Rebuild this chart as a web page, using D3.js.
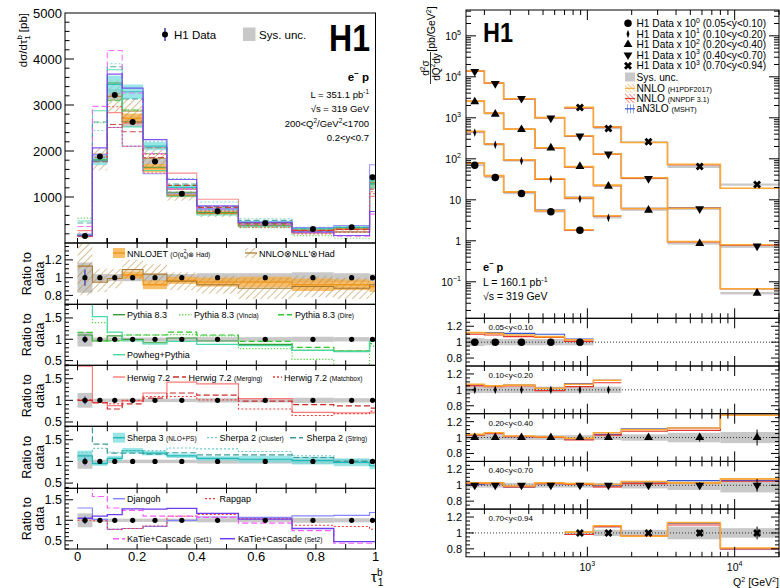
<!DOCTYPE html>
<html><head><meta charset="utf-8">
<script src="https://cdn.jsdelivr.net/npm/d3@7"></script>
<style>
body{margin:0;background:#fff}
svg{font-family:"Liberation Sans",Arial,Helvetica,sans-serif;display:block}
</style>
</head><body>
<svg id="chart" width="780" height="588"></svg>
<script>
// ================= Left: 1-jettiness tau_1^b =================
const tauEdges   = [0, 0.05, 0.1, 0.15, 0.22, 0.3, 0.4, 0.54, 0.72, 0.86, 0.98, 1.0];
const tauCenters = [0.025, 0.075, 0.125, 0.185, 0.26, 0.35, 0.47, 0.63, 0.79, 0.92, 0.99];
const tauXsec    = [150, 1880, 3220, 2630, 1770, 1070, 690, 428, 304, 341, 1428];
const tauStat    = [0.09, 0.02, 0.015, 0.015, 0.015, 0.015, 0.02, 0.02, 0.03, 0.03, 0.03];
const tauSys     = [0.17, 0.04, 0.04, 0.04, 0.04, 0.04, 0.05, 0.05, 0.06, 0.05, 0.04];
const tauXTicks  = [0, 0.2, 0.4, 0.6, 0.8, 1];
const tauYTicks  = [1000, 2000, 3000, 4000, 5000];

// predictions, as ratio to data
const ratNnlojet   = [null, null, null, 1.03, 0.92, 0.97, 0.95, 0.95, 0.92, 0.92, 0.90];
const uncNnlojet   = [null, null, null, 0.04, 0.05, 0.04, 0.05, 0.06, 0.07, 0.06, 0.06];
const ratNnloNll   = [1.13, 0.95, 0.99, 1.09, 1.04, 0.96, 0.92, 0.88, 0.90, 0.88, 0.92];
const loNnloNll    = [0.80, 0.84, 0.88, 0.98, 0.93, 0.86, 0.82, 0.76, 0.78, 0.76, 0.80];
const hiNnloNll    = [1.60, 1.10, 1.10, 1.20, 1.15, 1.06, 1.02, 1.00, 1.02, 1.00, 1.04];
const ratPythia    = [1.10, 0.96, 1.08, 1.00, 0.93, 1.03, 0.96, 0.88, 0.74, 0.72, 0.95];
const ratVincia    = [3.60, 1.39, 0.97, 1.10, 1.10, 1.11, 1.08, 0.78, 0.53, 0.30, 0.84];
const ratDire      = [1.16, 0.96, 0.96, 1.10, 1.10, 1.17, 1.10, 0.95, 0.81, 0.72, 0.90];
const ratPowheg    = [3.20, 1.53, 1.17, 0.96, 0.89, 0.95, 0.88, 0.85, 0.74, 0.71, 0.95];
const ratHerwig    = [1.79, 0.95, 0.88, 0.99, 1.17, 1.42, 1.38, 1.04, 0.72, 0.71, 0.71];
const ratMerging   = [1.00, 0.94, 0.80, 0.92, 1.05, 1.17, 1.12, 0.98, 0.90, 0.87, 0.82];
const ratMatchbox  = [1.02, 0.95, 0.92, 1.00, 1.09, 1.09, 1.01, 0.80, 0.65, 0.69, 0.75];
const ratSherpa3   = [1.13, 0.95, 1.07, 1.25, 1.19, 1.13, 1.07, 1.05, 1.02, 0.98, 0.90];
const uncSherpa3   = [0.12, 0.05, 0.06, 0.06, 0.05, 0.05, 0.05, 0.08, 0.09, 0.09, 0.08];
const ratCluster   = [1.20, 1.30, 1.21, 1.25, 1.25, 1.31, 1.29, 1.23, 1.13, 1.03, 1.03];
const ratString    = [2.90, 1.40, 1.19, 1.19, 1.17, 1.20, 1.15, 1.15, 1.09, 1.00, 1.00];
const ratDjangoh   = [1.30, 1.02, 0.78, 0.80, 0.85, 1.00, 1.08, 1.07, 1.11, 1.12, 1.19];
const ratRapgap    = [1.00, 0.99, 0.78, 0.80, 0.86, 1.10, 1.14, 1.04, 0.88, 0.85, 0.78];
const ratKatie1    = [2.40, 1.58, 1.30, 1.24, 1.10, 1.10, 1.07, 0.93, 0.75, 0.44, 0.44];
const ratKatie2    = [1.05, 1.10, 1.14, 1.28, 1.27, 1.29, 1.17, 1.03, 0.80, 0.48, 0.48];

// ================= Right: double-differential in Q2 and y =================
const q2Edges   = [150, 200, 270, 440, 700, 1100, 1700, 3500, 8000, 20000];
const q2Centers = [172, 237, 357, 565, 890, 1390, 2600, 5790, 14200];
const yBinNames = ["0.05<y<0.10", "0.10<y<0.20", "0.20<y<0.40", "0.40<y<0.70", "0.70<y<0.94"];
const yBinScale = [1, 10, 100, 1000, 1000];
const yBinScaleExp = ["0", "1", "2", "3", "3"];
const xsecY1 = [70, 35, 14.3, 5.1, 1.8, null, null, null, null];
const xsecY2 = [43.8, 21.9, 8.9, 3.2, 1.06, 0.364, null, null, null];
const xsecY3 = [24.6, 12.3, 5.19, 1.85, 0.65, 0.215, 0.056, 0.0086, 0.00053];
const xsecY4 = [13.5, 6.87, 2.96, 0.982, 0.357, 0.130, 0.033, 0.00603, 0.00074];
const xsecY5 = [null, null, null, null, 1.78, 0.55, 0.26, 0.065, 0.0236];
const statY1 = [0.01, 0.01, 0.01, 0.015, 0.02, null, null, null, null];
const statY2 = [0.01, 0.01, 0.01, 0.015, 0.02, 0.03, null, null, null];
const statY3 = [0.01, 0.01, 0.01, 0.01, 0.015, 0.02, 0.03, 0.05, 0.10];
const statY4 = [0.01, 0.01, 0.01, 0.01, 0.01, 0.015, 0.02, 0.04, 0.08];
const statY5 = [null, null, null, null, 0.02, 0.02, 0.02, 0.04, 0.08];
const sysY1 = [0.05, 0.04, 0.04, 0.04, 0.04, null, null, null, null];
const sysY2 = [0.04, 0.04, 0.04, 0.04, 0.04, 0.04, null, null, null];
const sysY3 = [0.03, 0.03, 0.03, 0.03, 0.03, 0.03, 0.04, 0.06, 0.07];
const sysY4 = [0.03, 0.03, 0.03, 0.03, 0.03, 0.03, 0.04, 0.06, 0.09];
const sysY5 = [null, null, null, null, 0.02, 0.04, 0.04, 0.08, 0.06];
const h1pdfY1 = [1.12, 1.11, 1.09, 1.07, 1.03, null, null, null, null];
const h1pdfY2 = [1.07, 1.05, 1.06, 1.02, 1.07, 1.12, null, null, null];
const h1pdfY3 = [1.04, 1.06, 1.02, 1.01, 0.99, 1.06, 1.10, 1.12, 1.28];
const h1pdfY4 = [1.03, 1.03, 0.99, 1.03, 1.02, 1.01, 1.045, 1.03, 1.08];
const h1pdfY5 = [null, null, null, null, 1.01, 1.09, 0.96, 1.13, 0.81];
const nnpdfY1 = [1.10, 1.09, 1.07, 1.06, 1.01, null, null, null, null];
const nnpdfY2 = [1.05, 1.04, 1.05, 0.99, 1.04, 1.09, null, null, null];
const nnpdfY3 = [1.03, 1.05, 1.01, 1.00, 0.97, 1.03, 1.08, 1.09, 1.28];
const nnpdfY4 = [1.02, 1.02, 0.98, 1.02, 1.01, 0.98, 1.02, 1.03, 1.05];
const nnpdfY5 = [null, null, null, null, 0.98, 1.08, 0.96, 1.10, 0.80];
const mshtY1 = [1.12, 1.12, 1.11, 1.10, 1.04, null, null, null, null];
const mshtY2 = [1.06, 1.05, 1.06, 1.02, 1.08, 1.12, null, null, null];
const mshtY3 = [1.03, 1.05, 1.01, 1.00, 0.98, 1.04, 1.11, 1.12, 1.28];
const mshtY4 = [1.01, 1.02, 0.98, 1.02, 1.01, 1.00, 1.03, 1.06, 1.06];
const mshtY5 = [null, null, null, null, 0.98, 1.08, 0.96, 1.12, 0.80];

// ================= helpers =================
const svg = d3.select("#chart");
const defs = svg.append("defs");
const GREY = "#c8c8c8";

function clipRect(id, x0, y0, x1, y1) {
  defs.append("clipPath").attr("id", id).append("rect")
    .attr("x", x0).attr("y", y0).attr("width", x1 - x0).attr("height", y1 - y0);
  return `url(#${id})`;
}
function hatch(id, color, angle, gap, w) {
  const p = defs.append("pattern").attr("id", id).attr("patternUnits", "userSpaceOnUse")
    .attr("width", gap).attr("height", gap).attr("patternTransform", `rotate(${angle})`);
  p.append("line").attr("x1", 0).attr("y1", 0).attr("x2", 0).attr("y2", gap)
    .attr("stroke", color).attr("stroke-width", w);
}
hatch("hBrown", "#b8893a", 45, 5, 1.1);
hatch("hOrange", "#ff9f2a", -45, 3, 1);
hatch("hRed", "#e8332a", -45, 3, 1);
hatch("hBlue", "#3355d8", 0, 3, 1);

// rich text: parts are strings or {t, k:'sup'|'sub'|'small', sz, dx, b}
function rich(t, parts, fs) {
  let shift = 0;
  for (const p of parts) {
    const o = typeof p === "string" ? { t: p } : p;
    let target = 0, size = fs;
    if (o.k === "sup") { target = -0.42 * fs; size = 0.68 * fs; }
    if (o.k === "sub") { target = 0.28 * fs; size = 0.68 * fs; }
    if (o.k === "small") { size = 0.72 * fs; }
    if (o.sz) size = o.sz;
    const ts = t.append("tspan").attr("dy", (target - shift).toFixed(2)).attr("font-size", size).text(o.t);
    if (o.dx) ts.attr("dx", o.dx);
    if (o.b) ts.attr("font-weight", "bold");
    shift = target;
  }
  return t;
}
function label(g, x, y, parts, fs, anchor) {
  const t = g.append("text").attr("x", x).attr("y", y).attr("font-size", fs)
    .attr("text-anchor", anchor || "start").attr("fill", "#000");
  return rich(t, parts, fs);
}
function stepPath(x, y, edges, vals) {
  const pts = [];
  vals.forEach((v, i) => {
    if (v == null) { pts.push(null); return; }
    pts.push([edges[i], v], [edges[i + 1], v]);
  });
  return d3.line().defined(d => d != null).x(d => x(d[0])).y(d => y(d[1]))(pts);
}
function bandRects(g, x, y, edges, lo, hi, fill, opacity) {
  edges.slice(0, -1).forEach((e, i) => {
    if (lo[i] == null || hi[i] == null) return;
    g.append("rect").attr("x", x(e)).attr("width", x(edges[i + 1]) - x(e))
      .attr("y", y(hi[i])).attr("height", Math.max(0.5, y(lo[i]) - y(hi[i])))
      .attr("fill", fill).attr("fill-opacity", opacity == null ? 1 : opacity);
  });
}
function line(g, x1, y1, x2, y2, w, c) {
  g.append("line").attr("x1", x1).attr("y1", y1).attr("x2", x2).attr("y2", y2)
    .attr("stroke", c || "#000").attr("stroke-width", w || 1);
}

// ================= LEFT CHART =================
const LX0 = 65, LX1 = 375.5;
const xL = d3.scaleLinear().domain([-0.042, 1.0]).range([LX0, LX1]);
const yTop = d3.scaleLinear().domain([0, 5000]).range([243, 13]);

const leftModels = [
  { rat: ratNnlojet, color: "#f0961a", w: 1.3, dash: null, panel: 0,
    band: { lo: ratNnlojet.map((r, i) => r == null ? null : r - uncNnlojet[i]), hi: ratNnlojet.map((r, i) => r == null ? null : r + uncNnlojet[i]), fill: "#f7ae45", op: 0.8 } },
  { rat: ratNnloNll, color: "#a87a30", w: 1.1, dash: null, panel: 0,
    band: { lo: loNnloNll, hi: hiNnloNll, fill: "url(#hBrown)", op: 1 } },
  { rat: ratPythia, color: "#3a9a3a", w: 1.2, dash: null, panel: 1 },
  { rat: ratVincia, color: "#5fd84a", w: 1.2, dash: "1.3,1.8", panel: 1 },
  { rat: ratDire, color: "#2ec82e", w: 1.2, dash: "6,3", panel: 1 },
  { rat: ratPowheg, color: "#48d9a6", w: 1.2, dash: null, panel: 1 },
  { rat: ratHerwig, color: "#ff7a7a", w: 1.2, dash: null, panel: 2 },
  { rat: ratMerging, color: "#c92b2b", w: 1.2, dash: "6,3", panel: 2 },
  { rat: ratMatchbox, color: "#ee3a3a", w: 1.1, dash: "2,2", panel: 2 },
  { rat: ratSherpa3, color: "#22b7b7", w: 1.2, dash: null, panel: 3,
    band: { lo: ratSherpa3.map((r, i) => r - uncSherpa3[i]), hi: ratSherpa3.map((r, i) => r + uncSherpa3[i]), fill: "#6fdcdc", op: 0.7 } },
  { rat: ratCluster, color: "#6cc9c9", w: 1.1, dash: "2,2", panel: 3 },
  { rat: ratString, color: "#3c9a9a", w: 1.2, dash: "6,3", panel: 3 },
  { rat: ratDjangoh, color: "#8585ff", w: 1.2, dash: null, panel: 4 },
  { rat: ratRapgap, color: "#ff3535", w: 1.1, dash: "2,2", panel: 4 },
  { rat: ratKatie1, color: "#ff5cff", w: 1.2, dash: "6,3", panel: 4 },
  { rat: ratKatie2, color: "#6b3cf0", w: 1.3, dash: null, panel: 4 }
];

// ---- top pad
const gT = svg.append("g");
const cTop = clipRect("cTop", LX0, 13, LX1, 243);
const gTc = gT.append("g").attr("clip-path", cTop);
bandRects(gTc, xL, yTop, tauEdges, tauXsec.map((d, i) => d * (1 - tauSys[i])), tauXsec.map((d, i) => d * (1 + tauSys[i])), GREY, 1);
leftModels.filter(m => m.band).forEach(m => {
  bandRects(gTc, xL, yTop, tauEdges,
    m.band.lo.map((r, i) => r == null ? null : r * tauXsec[i]),
    m.band.hi.map((r, i) => r == null ? null : r * tauXsec[i]), m.band.fill, m.band.op);
});
leftModels.forEach(m => {
  gTc.append("path").attr("d", stepPath(xL, yTop, tauEdges, m.rat.map((r, i) => r == null ? null : r * tauXsec[i])))
    .attr("fill", "none").attr("stroke", m.color).attr("stroke-width", m.w * 0.9)
    .attr("stroke-dasharray", m.dash).attr("stroke-opacity", 0.85);
});
tauXsec.forEach((d, i) => {
  line(gTc, xL(tauCenters[i]), yTop(d * (1 + tauStat[i])), xL(tauCenters[i]), yTop(d * (1 - tauStat[i])), 1.2, "#2020a0");
  gTc.append("circle").attr("cx", xL(tauCenters[i])).attr("cy", yTop(d)).attr("r", 3).attr("fill", "#000");
});
gT.append("rect").attr("x", LX0).attr("y", 13).attr("width", LX1 - LX0).attr("height", 230)
  .attr("fill", "none").attr("stroke", "#000").attr("stroke-width", 1);
// y ticks
d3.range(200, 5000, 200).forEach(v => line(gT, LX0, yTop(v), LX0 + (v % 1000 === 0 ? 9 : 4.5), yTop(v), 1));
tauYTicks.forEach(v => label(gT, 62, yTop(v) + 4.5, [String(v)], 13, "end"));
// legend
line(gT, 165, 28, 165, 41, 1.3, "#2020a0");
gT.append("circle").attr("cx", 165).attr("cy", 34.5).attr("r", 3).attr("fill", "#000");
label(gT, 174, 38.5, ["H1 Data"], 11.5);
gT.append("rect").attr("x", 243).attr("y", 27.5).attr("width", 12.5).attr("height", 13.5).attr("fill", GREY);
label(gT, 259, 38.5, ["Sys. unc."], 11.5);
label(gT, 370, 51, ["H1"], 36, "end").attr("font-weight", "bold").attr("textLength", 41).attr("lengthAdjust", "spacingAndGlyphs");
label(gT, 369, 81, [{ t: "e", b: true }, { t: "−", k: "sup", b: true }, { t: " p", b: true }], 11.5, "end");
label(gT, 369, 98, ["L = 351.1 pb", { t: "-1", k: "sup" }], 9.5, "end");
label(gT, 369, 112, ["√s = 319 GeV"], 9.5, "end");
label(gT, 369, 127, ["200<Q", { t: "2", k: "sup" }, { t: "/GeV" }, { t: "2", k: "sup" }, "<1700"], 9.5, "end");
label(gT, 369, 141, ["0.2<y<0.7"], 9.5, "end");
// y title
{
  const t = gT.append("text").attr("transform", "translate(27,13) rotate(-90)")
    .attr("text-anchor", "end").attr("font-size", 11.5);
  rich(t, ["dσ/dτ", { t: "b", k: "sup" }, { t: "1", k: "sub", dx: -4.5 }, { t: " [pb]" }], 11.5);
}

// ---- ratio pads
const ratioPads = [
  { top: 243, bot: 304.3, dom: [0.70, 1.39], labels: [0.8, 1, 1.2], names: ["0.8", "1", "1.2"], minor: 0.05, major: 0.2 },
  { top: 304.3, bot: 365.3, dom: [0.39, 1.82], labels: [0.5, 1, 1.5], names: ["0.5", "1", "1.5"], minor: 0.1, major: 0.5 },
  { top: 365.3, bot: 426.3, dom: [0.40, 1.81], labels: [0.5, 1, 1.5], names: ["0.5", "1", "1.5"], minor: 0.1, major: 0.5 },
  { top: 426.3, bot: 488.3, dom: [0.38, 1.81], labels: [0.5, 1, 1.5], names: ["0.5", "1", "1.5"], minor: 0.1, major: 0.5 },
  { top: 488.3, bot: 549, dom: [0.30, 1.78], labels: [0.5, 1, 1.5], names: ["0.5", "1", "1.5"], minor: 0.1, major: 0.5 }
];
ratioPads.forEach((p, k) => {
  const g = svg.append("g");
  const y = d3.scaleLinear().domain(p.dom).range([p.bot, p.top]);
  const gc = g.append("g").attr("clip-path", clipRect("cR" + k, LX0, p.top, LX1, p.bot));
  bandRects(gc, xL, y, tauEdges, tauSys.map(s => 1 - s), tauSys.map(s => 1 + s), GREY, 1);
  const ms = leftModels.filter(m => m.panel === k);
  ms.filter(m => m.band).forEach(m => bandRects(gc, xL, y, tauEdges, m.band.lo, m.band.hi, m.band.fill, m.band.op));
  ms.forEach(m => {
    gc.append("path").attr("d", stepPath(xL, y, tauEdges, m.rat)).attr("fill", "none")
      .attr("stroke", m.color).attr("stroke-width", m.w).attr("stroke-dasharray", m.dash);
  });
  tauCenters.forEach((c, i) => {
    line(gc, xL(c), y(1 + tauStat[i]), xL(c), y(1 - tauStat[i]), 1.2, "#3030b0");
    gc.append("circle").attr("cx", xL(c)).attr("cy", y(1)).attr("r", 2.6).attr("fill", "#000");
  });
  g.append("rect").attr("x", LX0).attr("y", p.top).attr("width", LX1 - LX0).attr("height", p.bot - p.top)
    .attr("fill", "none").attr("stroke", "#000").attr("stroke-width", 1);
  // y ticks
  for (let v = Math.ceil(p.dom[0] / p.minor) * p.minor; v <= p.dom[1]; v += p.minor) {
    const isMaj = Math.abs(v / p.major - Math.round(v / p.major)) < 1e-6;
    line(g, LX0, y(v), LX0 + (isMaj ? 8 : 4), y(v), 1);
  }
  p.labels.forEach((v, j) => label(g, 62, y(v) + 4.3, [p.names[j]], 12.5, "end"));
  // x ticks (top and bottom)
  d3.range(0, 1.0001, 0.1).forEach(v => {
    line(g, xL(v), p.top, xL(v), p.top + 5, 1);
    line(g, xL(v), p.bot, xL(v), p.bot - 5, 1);
  });
  d3.range(0, 1.0001, 0.1).forEach(v => {
    line(g, xL(v), 243, xL(v), 238, 1);
  });
  // title
  const cy = (p.top + p.bot) / 2;
  const t1 = g.append("text").attr("transform", `translate(31,${cy}) rotate(-90)`).attr("text-anchor", "middle").attr("font-size", 12.5).text("Ratio to");
  const t2 = g.append("text").attr("transform", `translate(44,${cy}) rotate(-90)`).attr("text-anchor", "middle").attr("font-size", 12.5).text("data");
});

// ratio-pad legends
function legLine(g, x1, x2, y, m) {
  g.append("line").attr("x1", x1).attr("x2", x2).attr("y1", y).attr("y2", y)
    .attr("stroke", m.color).attr("stroke-width", m.w + 0.2).attr("stroke-dasharray", m.dash);
}
function legBand(g, x1, x2, y, m) {
  g.append("rect").attr("x", x1).attr("y", y - 5).attr("width", x2 - x1).attr("height", 10)
    .attr("fill", m.band.fill).attr("fill-opacity", m.band.op);
  legLine(g, x1, x2, y, m);
}
const gLeg = svg.append("g");
const LM = leftModels;
const F = 9, FS = 6.6;
legBand(gLeg, 113, 125, 253, LM[0]);
label(gLeg, 127, 256.5, ["NNLOJET ", { t: "(O(α", sz: FS }, { t: "2", k: "sup", sz: 4.6 }, { t: "s", k: "sub", sz: 4.6, dx: -2.6 }, { t: ")⊗ Had)", sz: FS }], F);
legBand(gLeg, 245, 257, 253, LM[1]);
label(gLeg, 259, 256.5, ["NNLO⊗NLL'⊗Had"], F);

legLine(gLeg, 113, 125, 314.7, LM[2]); label(gLeg, 127, 318.2, ["Pythia 8.3"], F);
legLine(gLeg, 179, 192, 314.7, LM[3]); label(gLeg, 194, 318.2, ["Pythia 8.3 ", { t: "(Vincia)", sz: FS }], F);
legLine(gLeg, 278, 292, 314.7, LM[4]); label(gLeg, 295, 318.2, ["Pythia 8.3 ", { t: "(Dire)", sz: FS }], F);
legLine(gLeg, 113, 125, 354.7, LM[5]); label(gLeg, 127, 358.2, ["Powheg+Pythia"], F);

legLine(gLeg, 113, 125, 377, LM[6]); label(gLeg, 127, 380.5, ["Herwig 7.2"], F);
legLine(gLeg, 173, 186, 377, LM[7]); label(gLeg, 188.5, 380.5, ["Herwig 7.2 ", { t: "(Merging)", sz: FS }], F);
legLine(gLeg, 273, 282, 377, LM[8]); label(gLeg, 284, 380.5, ["Herwig 7.2 ", { t: "(Matchbox)", sz: FS }], F);

legBand(gLeg, 113, 125, 437.7, LM[9]); label(gLeg, 127, 441.2, ["Sherpa 3 ", { t: "(NLO+PS)", sz: FS }], F);
legLine(gLeg, 207, 217, 437.7, LM[10]); label(gLeg, 219.5, 441.2, ["Sherpa 2 ", { t: "(Cluster)", sz: FS }], F);
legLine(gLeg, 290, 303, 437.7, LM[11]); label(gLeg, 306.5, 441.2, ["Sherpa 2 ", { t: "(String)", sz: FS }], F);

legLine(gLeg, 113, 125, 498.7, LM[12]); label(gLeg, 127, 502.2, ["Djangoh"], F);
legLine(gLeg, 205, 217, 498.7, LM[13]); label(gLeg, 219.5, 502.2, ["Rapgap"], F);
legLine(gLeg, 113, 125, 538.7, LM[14]); label(gLeg, 127, 542.2, ["KaTie+Cascade ", { t: "(Set1)", sz: FS }], F);
legLine(gLeg, 220, 235, 538.7, LM[15]); label(gLeg, 238, 542.2, ["KaTie+Cascade ", { t: "(Set2)", sz: FS }], F);

// x axis labels
tauXTicks.forEach(v => label(svg, xL(v), 561, [String(v)], 13, "middle"));
label(svg, 371, 582, ["τ", { t: "b", k: "sup" }, { t: "1", k: "sub", dx: -4.8 }], 15, "start");

// ================= RIGHT CHART =================
const RX0 = 466, RX1 = 779;
const xR = d3.scaleLog().domain([150, 20000]).range([RX0, RX1]);
const yR = d3.scaleLog().domain([Math.pow(10, -1.89), Math.pow(10, 5.63)]).range([318.3, 10]);

const series = [
  { x: xsecY1, st: statY1, sy: sysY1, h1: h1pdfY1, nn: nnpdfY1, ms: mshtY1, sym: "circle" },
  { x: xsecY2, st: statY2, sy: sysY2, h1: h1pdfY2, nn: nnpdfY2, ms: mshtY2, sym: "diamond" },
  { x: xsecY3, st: statY3, sy: sysY3, h1: h1pdfY3, nn: nnpdfY3, ms: mshtY3, sym: "up" },
  { x: xsecY4, st: statY4, sy: sysY4, h1: h1pdfY4, nn: nnpdfY4, ms: mshtY4, sym: "down" },
  { x: xsecY5, st: statY5, sy: sysY5, h1: h1pdfY5, nn: nnpdfY5, ms: mshtY5, sym: "cross" }
];
const predStyles = [
  { key: "ms", color: "#3355d8", w: 1.1 },
  { key: "nn", color: "#e8332a", w: 1.1 },
  { key: "h1", color: "#ffa733", w: 1.6 }
];
function marker(g, cx, cy, sym, s) {
  s = s || 1;
  let path, rot = 0, sx = 1;
  if (sym === "circle") path = d3.symbol(d3.symbolCircle, 44 * s)();
  else if (sym === "diamond") { path = d3.symbol(d3.symbolDiamond, 22 * s)(); sx = 0.6; }
  else if (sym === "up") path = d3.symbol(d3.symbolTriangle, 34 * s)();
  else if (sym === "down") { path = d3.symbol(d3.symbolTriangle, 34 * s)(); rot = 180; }
  else { path = d3.symbol(d3.symbolCross, 40 * s)(); rot = 45; }
  g.append("path").attr("d", path).attr("fill", "#000")
    .attr("transform", `translate(${cx},${cy}) rotate(${rot}) scale(${sx},1)`);
}

// ---- top pad
const gR = svg.append("g");
const gRc = gR.append("g").attr("clip-path", clipRect("cRT", RX0, 10, RX1, 318.3));
series.forEach((s, k) => {
  const sc = yBinScale[k];
  bandRects(gRc, xR, yR, q2Edges,
    s.x.map((v, i) => v == null ? null : v * sc * (1 - s.sy[i])),
    s.x.map((v, i) => v == null ? null : v * sc * (1 + s.sy[i])), GREY, 1);
});
series.forEach((s, k) => {
  const sc = yBinScale[k];
  predStyles.forEach(ps => {
    gRc.append("path").attr("d", stepPath(xR, yR, q2Edges, s[ps.key].map((r, i) => r == null ? null : r * s.x[i] * sc)))
      .attr("fill", "none").attr("stroke", ps.color).attr("stroke-width", ps.w);
  });
});
series.forEach((s, k) => {
  const sc = yBinScale[k];
  s.x.forEach((v, i) => {
    if (v == null) return;
    const X = xR(q2Centers[i]);
    line(gRc, X, yR(v * sc * (1 + s.st[i])), X, yR(v * sc * (1 - s.st[i])), 1);
    marker(gRc, X, yR(v * sc), s.sym);
  });
});
gR.append("rect").attr("x", RX0).attr("y", 10).attr("width", RX1 - RX0).attr("height", 308.3)
  .attr("fill", "none").attr("stroke", "#000").attr("stroke-width", 1);

function logTicksX(g, y0, y1, withTop) {
  [100, 1000, 10000].forEach(d => {
    for (let m = 1; m <= 9; m++) {
      const v = m * d;
      if (v < 150 || v > 20000) continue;
      const L = m === 1 ? 10 : 5;
      if (withTop) line(g, xR(v), y0, xR(v), y0 + L, 1);
      line(g, xR(v), y1, xR(v), y1 - L, 1);
    }
  });
}
logTicksX(gR, 10, 318.3, true);
for (let e = -2; e <= 5; e++) {
  for (let m = 1; m <= 9; m++) {
    const v = m * Math.pow(10, e);
    if (v < yR.domain()[0] || v > yR.domain()[1]) continue;
    const L = m === 1 ? 10 : 5;
    line(gR, RX0, yR(v), RX0 + L, yR(v), 1);
    line(gR, RX1, yR(v), RX1 - L, yR(v), 1);
  }
}
[[-1, ["10", { t: "−1", k: "sup" }]], [0, ["1"]], [1, ["10"]], [2, ["10", { t: "2", k: "sup" }]],
 [3, ["10", { t: "3", k: "sup" }]], [4, ["10", { t: "4", k: "sup" }]], [5, ["10", { t: "5", k: "sup" }]]]
  .forEach(([e, parts]) => label(gR, 461, yR(Math.pow(10, e)) + 4, parts, 10.5, "end"));

label(gR, 483, 42, ["H1"], 27, "start").attr("font-weight", "bold").attr("textLength", 30).attr("lengthAdjust", "spacingAndGlyphs");
label(gR, 483, 271, [{ t: "e", b: true }, { t: "−", k: "sup", b: true }, { t: " p", b: true }], 11);
label(gR, 483, 286, ["L = 160.1 pb", { t: "-1", k: "sup" }], 10.5);
label(gR, 483, 300, ["√s = 319 GeV"], 10.5);

// legend
const legYs = [23.3, 34, 44.5, 55, 65.7];
series.forEach((s, k) => {
  marker(gR, 628, legYs[k], s.sym);
  label(gR, 636.5, legYs[k] + 3.6, ["H1 Data x 10", { t: yBinScaleExp[k], k: "sup" }, ` (${yBinNames[k]})`], 10.2);
});
gR.append("rect").attr("x", 625).attr("y", 72.5).attr("width", 10).attr("height", 9).attr("fill", GREY);
label(gR, 636.5, 80.8, ["Sys. unc."], 10.2);
[["hOrange", "#ffa733", 88.3, ["NNLO ", { t: "(H1PDF2017)", sz: 7.2 }]],
 ["hRed", "#e8332a", 98.5, ["NNLO ", { t: "(NNPDF 3.1)", sz: 7.2 }]],
 ["hBlue", "#3355d8", 108.8, ["aN3LO ", { t: "(MSHT)", sz: 7.2 }]]].forEach(([pat, col, yy, parts]) => {
  gR.append("rect").attr("x", 625).attr("y", yy - 4.5).attr("width", 10).attr("height", 9).attr("fill", `url(#${pat})`);
  line(gR, 625, yy, 635, yy, 1.2, col);
  label(gR, 636.5, yy + 3.6, parts, 10.2);
});

// y title: d2sigma / dQ2 dy [pb/GeV2]
{
  const g = gR.append("g");
  const num = g.append("text").attr("transform", "translate(429,68) rotate(-90)").attr("text-anchor", "middle").attr("font-size", 10);
  rich(num, ["d", { t: "2", k: "sup" }, "σ"], 10);
  line(g, 430.5, 52, 430.5, 84, 0.8);
  const den = g.append("text").attr("transform", "translate(439.5,67) rotate(-90)").attr("text-anchor", "middle").attr("font-size", 10);
  rich(den, ["dQ", { t: "2", k: "sup" }, "dy"], 10);
  const un = g.append("text").attr("transform", "translate(435,29) rotate(-90)").attr("text-anchor", "middle").attr("font-size", 10.5);
  rich(un, ["[pb/GeV", { t: "2", k: "sup" }, "]"], 10.5);
}

// ---- ratio pads
const RP_H = 47.7;
series.forEach((s, k) => {
  const top = 318.3 + k * RP_H, bot = top + RP_H;
  const y = d3.scaleLinear().domain([0.7, 1.3]).range([bot, top]);
  const g = svg.append("g");
  const gc = g.append("g").attr("clip-path", clipRect("cRR" + k, RX0, top, RX1, bot));
  bandRects(gc, xR, y, q2Edges, s.sy.map(v => v == null ? null : 1 - v), s.sy.map(v => v == null ? null : 1 + v), GREY, 1);
  gc.append("line").attr("x1", RX0).attr("x2", RX1).attr("y1", y(1)).attr("y2", y(1))
    .attr("stroke", "#000").attr("stroke-width", 0.8).attr("stroke-dasharray", "1,2");
  predStyles.forEach(ps => {
    gc.append("path").attr("d", stepPath(xR, y, q2Edges, s[ps.key])).attr("fill", "none")
      .attr("stroke", ps.color).attr("stroke-width", ps.w);
  });
  s.x.forEach((v, i) => {
    if (v == null) return;
    const X = xR(q2Centers[i]);
    line(gc, X, y(1 + s.st[i]), X, y(1 - s.st[i]), 1);
    marker(gc, X, y(1), s.sym);
  });
  g.append("rect").attr("x", RX0).attr("y", top).attr("width", RX1 - RX0).attr("height", RP_H)
    .attr("fill", "none").attr("stroke", "#000").attr("stroke-width", 1);
  logTicksX(g, top, bot, true);
  for (let v = 0.75; v <= 1.2501; v += 0.05) {
    const maj = [0.8, 1, 1.2].some(m => Math.abs(m - v) < 1e-6);
    line(g, RX0, y(v), RX0 + (maj ? 8 : 4), y(v), 1);
    line(g, RX1, y(v), RX1 - (maj ? 8 : 4), y(v), 1);
  }
  [[0.8, "0.8"], [1, "1"], [1.2, "1.2"]].forEach(([v, t]) => label(g, 462, y(v) + 4, [t], 11, "end"));
  label(g, 488.5, top + 12, [yBinNames[k]], 8);
});

label(svg, xR(1000), 570.5, ["10", { t: "3", k: "sup" }], 10.5, "middle");
label(svg, xR(10000), 570.5, ["10", { t: "4", k: "sup" }], 10.5, "middle");
label(svg, 779, 586, ["Q", { t: "2", k: "sup" }, " [GeV", { t: "2", k: "sup" }, "]"], 10.5, "end");
</script>
</body></html>
